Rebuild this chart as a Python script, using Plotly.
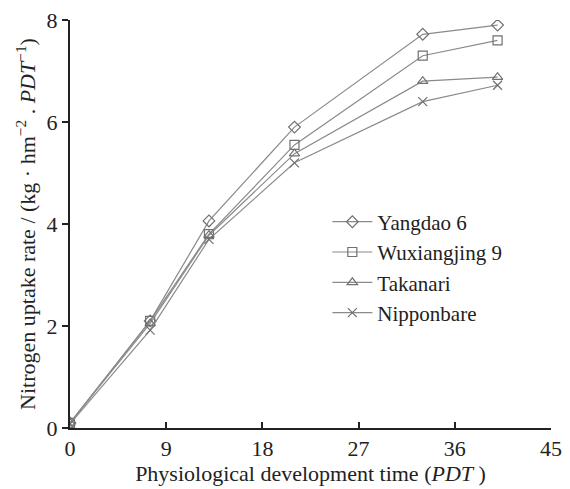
import plotly.graph_objects as go

pdt = [0, 7.5, 13, 21, 33, 40]
yangdao6 = [0.1, 2.1, 4.06, 5.9, 7.72, 7.9]
wuxiangjing9 = [0.1, 2.1, 3.8, 5.55, 7.3, 7.6]
takanari = [0.1, 2.05, 3.78, 5.38, 6.8, 6.88]
nipponbare = [0.08, 1.92, 3.7, 5.2, 6.4, 6.72]

names = ["Yangdao 6", "Wuxiangjing 9", "Takanari", "Nipponbare"]
series = [yangdao6, wuxiangjing9, takanari, nipponbare]
symbols = ["diamond-open", "square-open", "triangle-up-open", "x-thin-open"]

fig = go.Figure()
for n, s, sym in zip(names, series, symbols):
    fig.add_trace(go.Scatter(
        x=pdt, y=s, name=n, mode="lines+markers",
        line=dict(color="#8a8a8a", width=1.2),
        marker=dict(symbol=sym, size=9, color="#707070",
                    line=dict(color="#707070", width=1.2)),
    ))

font = "Liberation Serif"
fig.update_layout(
    width=570, height=489,
    margin=dict(l=70, r=8, t=14, b=59),
    paper_bgcolor="white", plot_bgcolor="white",
    font=dict(family=font, size=20, color="#222"),
    showlegend=True,
    legend=dict(x=0.535, y=0.555, xanchor="left", yanchor="top",
                bgcolor="rgba(0,0,0,0)", font=dict(size=21, family=font),
                tracegroupgap=0, itemwidth=40),
    xaxis=dict(range=[0, 45], tickvals=[0, 9, 18, 27, 36, 45],
               showline=True, linecolor="#222", linewidth=2,
               ticks="inside", ticklen=6, tickwidth=2, tickcolor="#222",
               showgrid=False, zeroline=False, ticklabeloverflow="allow",
               tickfont=dict(size=22, family=font),
               title=dict(text="Physiological development time (<i>PDT</i> )",
                          font=dict(size=22, family=font), standoff=4)),
    yaxis=dict(range=[0, 8], tickvals=[0, 2, 4, 6, 8],
               showline=True, linecolor="#222", linewidth=2,
               ticks="outside", ticklen=6, tickwidth=2, tickcolor="#222",
               showgrid=False, zeroline=False,
               tickfont=dict(size=22, family=font),
               title=dict(text="Nitrogen uptake rate / (kg · hm<sup>−2</sup> . <i>PDT</i><sup>−1</sup>)",
                          font=dict(size=22, family=font), standoff=5)),
)
fig.write_html("out.html")
